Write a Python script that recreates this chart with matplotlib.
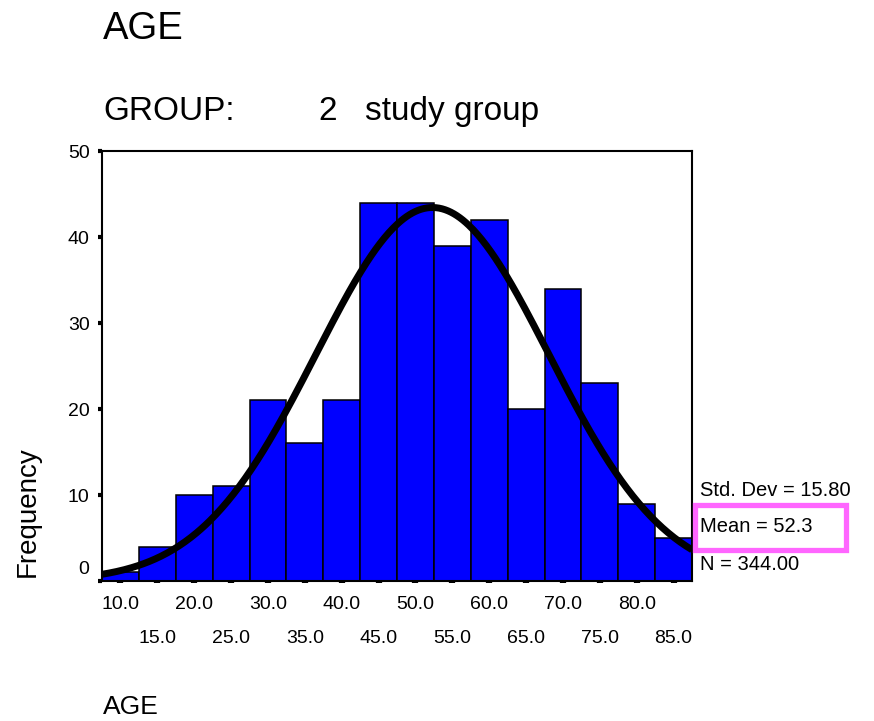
import matplotlib.pyplot as plt
import matplotlib.transforms as mtransforms
from matplotlib.patches import Rectangle
import numpy as np

plt.rcParams['font.family'] = ['Liberation Sans', 'DejaVu Sans']

# age bins (width 5) and their counts
bin_centers = [10, 15, 20, 25, 30, 35, 40, 45, 50, 55, 60, 65, 70, 75, 80, 85]
counts = [1, 4, 10, 11, 21, 16, 21, 44, 44, 39, 42, 20, 34, 23, 9, 5]
bin_width = 5

# summary stats shown on the right
std_dev = 15.80
mean = 52.3
n = 344.00

upper_labels = ['10.0', '20.0', '30.0', '40.0', '50.0', '60.0', '70.0', '80.0']
lower_labels = ['15.0', '25.0', '35.0', '45.0', '55.0', '65.0', '75.0', '85.0']

W, H = 874, 721
fig = plt.figure(figsize=(W / 100, H / 100), dpi=100)


def fx(px):
    return px / W


def fy(py):
    return 1 - py / H


ax = fig.add_axes([fx(102), fy(581), fx(692) - fx(102), fy(151) - fy(581)])

ax.bar(bin_centers, counts, width=bin_width, color='#0000ff',
       edgecolor='black', linewidth=1.1)

# fitted normal curve scaled to the histogram
lo = bin_centers[0] - bin_width / 2
hi = bin_centers[-1] + bin_width / 2
xs = np.linspace(lo, hi, 400)
ys = n * bin_width / (std_dev * np.sqrt(2 * np.pi)) * np.exp(-0.5 * ((xs - mean) / std_dev) ** 2)
ax.plot(xs, ys, color='black', linewidth=5, solid_capstyle='butt', clip_on=False)

ax.set_xlim(lo, hi)
ax.set_ylim(0, 50)

for s in ax.spines.values():
    s.set_linewidth(1.5)

ax.set_yticks([0, 10, 20, 30, 40, 50])
ax.set_yticklabels(['0', '10', '20', '30', '40', '50'])
ax.tick_params(axis='y', direction='out', length=3, width=3, pad=6, labelsize=14)

ax.set_xticks(bin_centers[::2])
ax.set_xticklabels(upper_labels)
ax.set_xticks(bin_centers[1::2], minor=True)
ax.set_xticklabels(lower_labels, minor=True)
ax.tick_params(axis='x', which='major', direction='out', length=1.5, width=4.5,
               pad=9, labelsize=14)
ax.tick_params(axis='x', which='minor', direction='out', length=1.5, width=4.5,
               pad=34, labelsize=14)

# lift the "0" label clear of the x labels
zero_label = ax.get_yticklabels()[0]
shift = mtransforms.ScaledTranslation(0, 13 / 100, fig.dpi_scale_trans)
zero_label.set_transform(zero_label.get_transform() + shift)

# titles and axis captions
fig.text(fx(103), fy(39), 'AGE', fontsize=27.5, va='baseline', ha='left')
fig.text(fx(103), fy(120), 'GROUP:', fontsize=24, va='baseline', ha='left')
fig.text(fx(318), fy(120), '2', fontsize=24, va='baseline', ha='left')
fig.text(fx(365), fy(120), 'study group', fontsize=24, va='baseline', ha='left')
fig.text(fx(28), fy(512), 'Frequency', fontsize=20, rotation=90,
         va='center', ha='center')
fig.text(fx(103), fy(714), 'AGE', fontsize=19, va='baseline', ha='left')

# stats block
fig.text(fx(700), fy(496), f'Std. Dev = {std_dev:.2f}', fontsize=14.5, va='baseline')
fig.text(fx(700), fy(532), f'Mean = {mean:.1f}', fontsize=14.5, va='baseline')
fig.text(fx(700), fy(570), f'N = {n:.2f}', fontsize=14.5, va='baseline')
fig.patches.append(Rectangle((fx(694.5), fy(549.5)), fx(845.5) - fx(694.5),
                             fy(504.5) - fy(549.5), transform=fig.transFigure,
                             fill=False, edgecolor='#ff66ff', linewidth=3.8))

fig.savefig('out.png', dpi=100)
